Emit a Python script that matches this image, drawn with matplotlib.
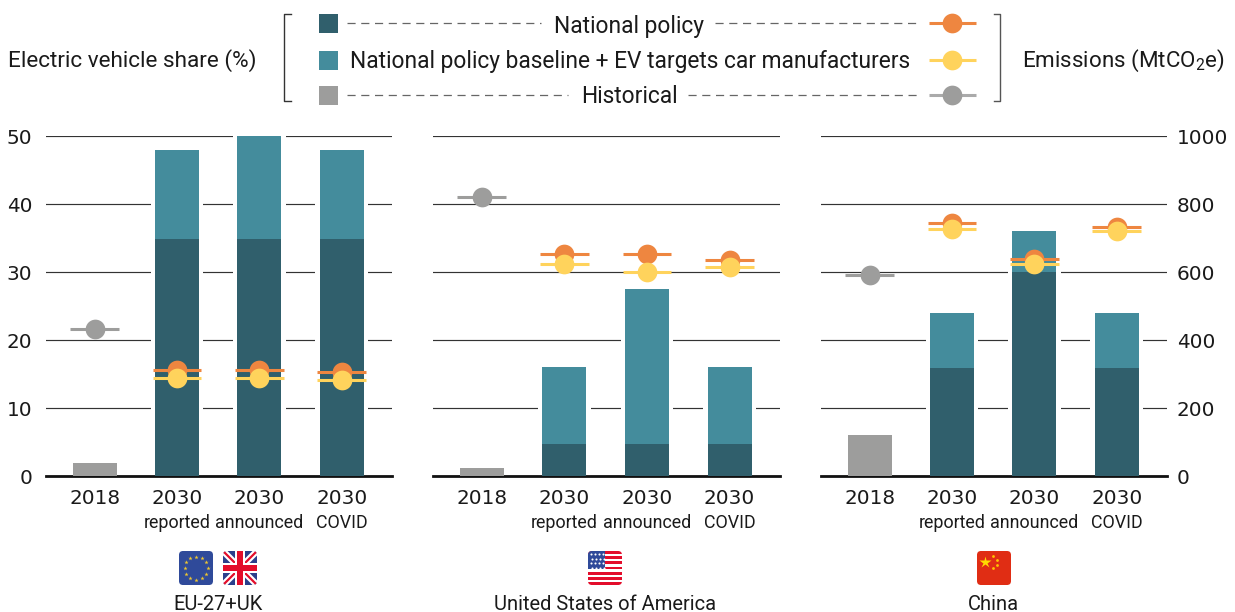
import numpy as np
import matplotlib
matplotlib.use("Agg")
import matplotlib.pyplot as plt
from matplotlib.patches import FancyBboxPatch, Rectangle

plt.rcParams['font.family'] = ['Roboto', 'DejaVu Sans']
plt.rcParams['mathtext.default'] = 'regular'

W, H = 1235, 612

COUNTRIES = ['EU-27+UK', 'United States of America', 'China']
YEARS = ['2018', '2030', '2030', '2030']
SUBLABELS = ['', 'reported', 'announced', 'COVID']

# share of electric vehicles (%)
HIST_SHARE = [1.9, 1.2, 6]
POLICY_SHARE = [[34.9, 34.9, 34.9], [4.7, 4.7, 4.7], [15.9, 30, 15.9]]
TARGET_SHARE = [[48, 50, 48], [16, 27.5, 16], [24, 36, 24]]

# emissions (MtCO2e)
HIST_EMIS = [432, 820, 591]
POLICY_EMIS = [[312, 312, 306], [653, 653, 635], [743, 637, 733]]
TARGET_EMIS = [[287, 287, 281], [623, 600, 615], [725, 623, 720]]

SHARE_TICKS = [0, 10, 20, 30, 40, 50]
EMIS_TICKS = [0, 200, 400, 600, 800, 1000]

DARK = '#305f6c'
TEAL = '#448c9c'
GREY = '#9d9d9c'
ORANGE = '#ee8640'
YELLOW = '#ffd35c'
INK = '#1a1a1a'
NUM_FONT = 'DejaVu Sans'  # wide figures, closer to the original than Roboto
NUM_SIZE = 14.4

PANEL_X = [(46, 392), (433, 780), (821, 1167)]
Y_TOP, Y_BASE = 136, 476


def new_axes(fig, x0, x1):
    return fig.add_axes([x0 / W, 1 - Y_BASE / H, (x1 - x0) / W, (Y_BASE - Y_TOP) / H])


def draw_panel(fig, i):
    ax = new_axes(fig, *PANEL_X[i])
    ax.set_xlim(-0.59, 3.61)
    ax.set_ylim(0, 50)
    for s in ax.spines.values():
        s.set_visible(False)
    ax.spines['bottom'].set_visible(True)
    ax.spines['bottom'].set_linewidth(2.0)
    ax.spines['bottom'].set_color('#111111')
    ax.set_yticks(SHARE_TICKS)
    ax.yaxis.grid(True, color='#333333', lw=0.85, zorder=1)
    ax.set_axisbelow(True)
    ax.tick_params(length=0)
    ax.tick_params(axis='y', labelsize=NUM_SIZE, labelcolor=INK, pad=10, labelleft=i == 0)
    ax.set_xticks(range(4))
    ax.set_xticklabels(YEARS, fontsize=NUM_SIZE, color=INK)
    ax.tick_params(axis='x', pad=9)
    for t in ax.get_xticklabels() + ax.get_yticklabels():
        t.set_family(NUM_FONT)
    ax.patch.set_visible(False)

    w = 0.535
    xs = np.arange(1, 4)
    # white halo that breaks the grid lines next to the bars
    ax.bar(xs, TARGET_SHARE[i], width=w + 0.105, color='white', zorder=2)
    ax.bar([0], [HIST_SHARE[i]], width=w, color=GREY, zorder=3)
    ax.bar(xs, TARGET_SHARE[i], width=w, color=TEAL, zorder=3)
    ax.bar(xs, POLICY_SHARE[i], width=w, color=DARK, zorder=3)

    for x, lab in zip(range(4), SUBLABELS):
        if lab:
            ax.annotate(lab, (x, 0), xycoords=('data', 'axes fraction'), xytext=(0, -27),
                        textcoords='offset points', ha='center', va='top', fontsize=12.9, color=INK)

    em = ax.twinx()
    em.set_ylim(0, 1000)
    em.set_yticks(EMIS_TICKS)
    em.patch.set_visible(False)
    for s in em.spines.values():
        s.set_visible(False)
    em.tick_params(length=0, labelsize=NUM_SIZE, labelcolor=INK, pad=7, labelright=i == 2)
    for t in em.get_yticklabels():
        t.set_family(NUM_FONT)
    em.set_zorder(ax.get_zorder() + 1)

    hw = 0.295
    em.plot([0], [HIST_EMIS[i]], 'o', ms=14.2, mfc=GREY, mec='none', zorder=5)
    em.hlines(HIST_EMIS[i], -hw, hw, color=GREY, lw=2.2, zorder=4)
    for j, x in enumerate(xs):
        em.plot([x], [POLICY_EMIS[i][j]], 'o', ms=14.2, mfc=ORANGE, mec='none', zorder=5)
        em.hlines(POLICY_EMIS[i][j], x - hw, x + hw, color=ORANGE, lw=2.2, zorder=6)
        em.hlines(TARGET_EMIS[i][j], x - hw, x + hw, color=YELLOW, lw=2.2, zorder=7)
        em.plot([x], [TARGET_EMIS[i][j]], 'o', ms=14.2, mfc=YELLOW, mec='none', zorder=8)


def rounded(ov, x, y, s, color):
    p = FancyBboxPatch((x + 4, y + 4), s - 8, s - 8, boxstyle='round,pad=4,rounding_size=4',
                       fc=color, ec='none')
    ov.add_patch(p)
    return p


def flag_eu(ov, x, y, s=34):
    rounded(ov, x, y, s, '#2f4a9a')
    cx, cy = x + s / 2, y + s / 2
    for a in np.deg2rad(np.arange(0, 360, 30)):
        ov.plot(cx + 11.5 * np.cos(a), cy + 11.5 * np.sin(a), marker='*', ms=3.2, color='#f1c72f', mec='none')


def flag_uk(ov, x, y, s=34):
    base = rounded(ov, x, y, s, '#2b3f8c')
    for (a, b) in [((x, y), (x + s, y + s)), ((x + s, y), (x, y + s))]:
        l1, = ov.plot([a[0], b[0]], [a[1], b[1]], color='white', lw=4.6, solid_capstyle='butt')
        l2, = ov.plot([a[0], b[0]], [a[1], b[1]], color='#e30d2b', lw=1.6, solid_capstyle='butt')
        l1.set_clip_path(base)
        l2.set_clip_path(base)
    for r, c in [((x + 12, y, 10, s), 'white'), ((x, y + 12, s, 10), 'white'),
                 ((x + 14, y, 6, s), '#e30d2b'), ((x, y + 14, s, 6), '#e30d2b')]:
        ov.add_patch(Rectangle(r[:2], r[2], r[3], fc=c, ec='none', zorder=3))


def flag_us(ov, x, y, s=34):
    base = rounded(ov, x, y, s, 'white')
    h = s / 13
    for k in range(7):
        r = Rectangle((x, y + 2 * k * h), s, h, fc='#e30d2b', ec='none')
        ov.add_patch(r)
        r.set_clip_path(base)
    c = Rectangle((x, y), s / 2, 7 * h, fc='#2f4a9a', ec='none', zorder=3)
    ov.add_patch(c)
    c.set_clip_path(base)
    for row in range(4):
        for col in range(4):
            ov.plot(x + 2.5 + col * 4 + (row % 2) * 1, y + 3 + row * 4.6, marker='o', ms=1.5, color='white',
                    mec='none', zorder=4)


def flag_cn(ov, x, y, s=34):
    rounded(ov, x, y, s, '#e02d14')
    ov.plot(x + 8, y + 11, marker='*', ms=9, color='#ffdc00', mec='none')
    for dx, dy in [(16, 5), (20, 9), (20, 14), (16, 17)]:
        ov.plot(x + dx, y + dy, marker='o', ms=2, color='#ffc400', mec='none')


def draw_legend(ov):
    # brackets
    ov.plot([291, 284, 284, 291], [13.5, 13.5, 101, 101], color='#333333', lw=1.0)
    ov.plot([994, 1000, 1000, 994], [13.5, 13.5, 101, 101], color='#555555', lw=1.0)

    rows = [(23, DARK, ORANGE), (60, TEAL, YELLOW), (95, GREY, GREY)]
    for y, fill, mark in rows:
        ov.add_patch(Rectangle((319, y - 9.5), 19, 19, fc=fill, ec='none'))
        ov.plot([929, 976], [y, y], color=mark if mark != GREY else '#aaaaaa', lw=2.2, solid_capstyle='butt')
        ov.plot([951.5], [y], 'o', ms=14.2, mfc=mark, mec='none')

    dash = dict(color='#666666', lw=0.9, dashes=(6.5, 4.5))
    for x0, x1, y in [(347, 541, 23), (715, 920, 23), (347, 568, 95), (688, 920, 95)]:
        ov.plot([x0, x1], [y, y], **dash)

    fs = 16.35
    ov.text(629.5, 26, 'National policy', ha='center', va='center', fontsize=fs, color=INK)
    ov.text(630, 61.5, 'National policy baseline + EV targets car manufacturers', ha='center', va='center',
            fontsize=fs, color=INK)
    ov.text(629.5, 96.5, 'Historical', ha='center', va='center', fontsize=fs, color=INK)
    ov.text(8, 60.5, 'Electric vehicle share (%)', ha='left', va='center', fontsize=16.2, color=INK)
    ov.text(1225, 60.5, 'Emissions (MtCO$_2$e)', ha='right', va='center', fontsize=16.1, color=INK)


fig = plt.figure(figsize=(W / 100, H / 100), dpi=100)

for i in range(3):
    draw_panel(fig, i)

ov = fig.add_axes([0, 0, 1, 1], zorder=20)
ov.set_xlim(0, W)
ov.set_ylim(H, 0)
ov.axis('off')
draw_legend(ov)

flag_eu(ov, 179, 551)
flag_uk(ov, 223, 551)
flag_us(ov, 588, 551)
flag_cn(ov, 977, 551)
for cx, name in zip([218.5, 605, 993.5], COUNTRIES):
    ov.text(cx, 604.5, name, ha='center', va='center', fontsize=14.5, color=INK)

fig.savefig('out.png', dpi=100)
